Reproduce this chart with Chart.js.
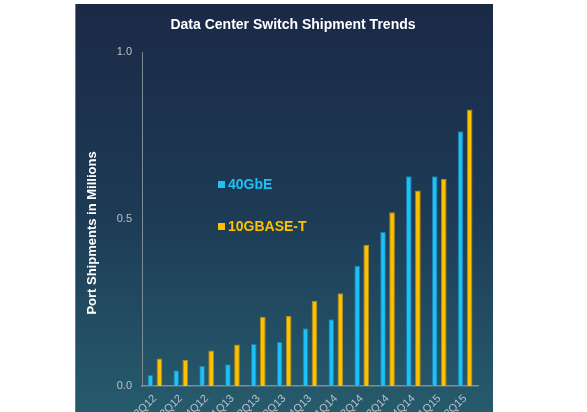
<!DOCTYPE html>
<html>
<head>
<meta charset="utf-8">
<script src="https://cdn.jsdelivr.net/npm/chart.js@4"></script>
<style>
  html, body { margin: 0; padding: 0; background: #ffffff; }
  #wrap { position: relative; width: 587px; height: 412px; overflow: hidden; }
  #panel {
    position: absolute; left: 75px; top: 4px; width: 417px; height: 408px;
    background: linear-gradient(to bottom, #1a2946 0%, #1d3a55 50%, #265b6c 100%);
    border-left: 1px solid #5a7d92;
  }
  #chart { position: absolute; left: 0; top: 0; }
</style>
</head>
<body>
<div id="wrap">
  <div id="panel"></div>
  <canvas id="chart" width="587" height="412"></canvas>
</div>
<script>
// data
const quarters = ["2Q12", "3Q12", "4Q12", "1Q13", "2Q13", "3Q13", "4Q13",
  "1Q14", "2Q14", "3Q14", "4Q14", "1Q15", "2Q15"];
const gbe40 = [0.033, 0.047, 0.061, 0.065, 0.126, 0.132, 0.173, 0.2, 0.36, 0.461, 0.628, 0.628, 0.763];
const base10T = [0.082, 0.078, 0.106, 0.124, 0.207, 0.21, 0.255, 0.278, 0.423, 0.52, 0.585, 0.62, 0.828];
const yTicks = [0, 0.5, 1.0];

const chartTitle = "Data Center Switch Shipment Trends";
const yTitle = "Port Shipments in Millions";

const blue = "#1ec0f8";
const yellow = "#ffc000";

// title, y axis title and the in-chart legend
const textPlugin = {
  id: "texts",
  afterDraw(chart) {
    const ctx = chart.ctx;
    ctx.save();
    ctx.fillStyle = "#ffffff";
    ctx.font = "bold 14px 'Liberation Sans', Arial, sans-serif";
    ctx.textAlign = "center";
    ctx.textBaseline = "middle";
    ctx.fillText(chartTitle, 293, 25);

    ctx.translate(92, 233);
    ctx.rotate(-Math.PI / 2);
    ctx.font = "bold 13px 'Liberation Sans', Arial, sans-serif";
    ctx.fillText(yTitle, 0, 0);
    ctx.restore();

    ctx.save();
    ctx.font = "bold 14px 'Liberation Sans', Arial, sans-serif";
    ctx.textAlign = "left";
    ctx.textBaseline = "middle";
    const rows = [185, 227];
    chart.data.datasets.forEach((ds, i) => {
      ctx.fillStyle = ds.backgroundColor;
      ctx.fillRect(218, rows[i] - 4, 7, 7);
      ctx.fillText(ds.label, 228, rows[i]);
    });
    ctx.restore();
  }
};

new Chart("chart", {
  type: "bar",
  data: {
    labels: quarters,
    datasets: [
      {
        label: "40GbE",
        data: gbe40,
        backgroundColor: blue,
        borderColor: "#1b7ea3",
        borderWidth: 1,
        categoryPercentage: 0.7,
        barPercentage: 0.63
      },
      {
        label: "10GBASE-T",
        data: base10T,
        backgroundColor: yellow,
        borderColor: "#b08a1a",
        borderWidth: 1,
        categoryPercentage: 0.7,
        barPercentage: 0.63
      }
    ]
  },
  options: {
    responsive: false,
    animation: false,
    layout: { padding: { left: 80, right: 109, top: 52, bottom: 0 } },
    plugins: {
      legend: { display: false },
      title: { display: false },
      tooltip: { enabled: false }
    },
    scales: {
      x: {
        grid: { display: false, drawTicks: false },
        border: { display: true, color: "#7c8c98", width: 1.5 },
        ticks: {
          color: "#b8c2ca",
          font: { size: 11, family: "'Liberation Sans', Arial, sans-serif" },
          minRotation: 45,
          maxRotation: 45,
          padding: 6
        },
        afterFit(scale) { scale.height = 26; }
      },
      y: {
        min: 0,
        max: 1,
        grid: { display: false, drawTicks: false },
        border: { display: true, color: "#7c8c98", width: 1 },
        afterBuildTicks(scale) {
          scale.ticks = yTicks.map((v) => ({ value: v }));
        },
        ticks: {
          color: "#b8c2ca",
          font: { size: 11, family: "'Liberation Sans', Arial, sans-serif" },
          padding: 10,
          callback: (v) => v.toFixed(1)
        },
        afterFit(scale) { scale.width = 62; }
      }
    }
  },
  plugins: [textPlugin]
});
</script>
</body>
</html>
